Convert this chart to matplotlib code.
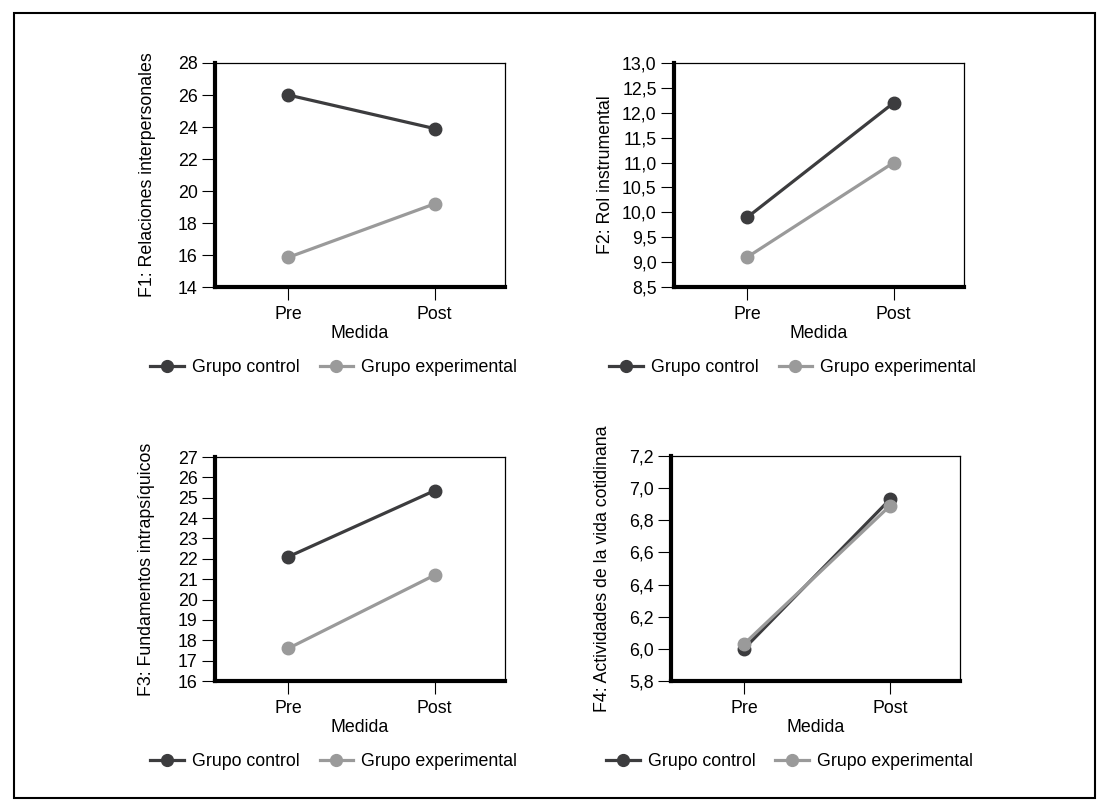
import matplotlib.pyplot as plt
from matplotlib.lines import Line2D
from matplotlib.patches import Rectangle
from matplotlib.ticker import FuncFormatter

plt.rcParams['font.family'] = ['Liberation Sans', 'DejaVu Sans']
plt.rcParams['font.size'] = 12.8

# Datos
medidas = ['Pre', 'Post']
grupos = ['Grupo control', 'Grupo experimental']

f1_control = [26.0, 23.9]
f1_experimental = [15.85, 19.2]
f2_control = [9.9, 12.2]
f2_experimental = [9.1, 11.0]
f3_control = [22.1, 25.35]
f3_experimental = [17.6, 21.2]
f4_control = [6.0, 6.93]
f4_experimental = [6.03, 6.89]

etiquetas_y = [
    'F1: Relaciones interpersonales',
    'F2: Rol instrumental',
    'F3: Fundamentos intrapsíquicos',
    'F4: Actividades de la vida cotidinana',
]
limites_y = [(14, 28), (8.5, 13.0), (16, 27), (5.8, 7.2)]
pasos_y = [2, 0.5, 1, 0.2]
decimales_y = [0, 1, 0, 1]

color_control = '#3c3c3e'
color_exp = '#9a9a9a'

W, H = 1108, 807
fig = plt.figure(figsize=(W / 100, H / 100), dpi=100)

# Marco exterior
fig.patches.append(Rectangle((14 / W, 1 - 798 / H), (1095 - 14) / W, (798 - 13) / H,
                             transform=fig.transFigure, fill=False, edgecolor='black', linewidth=1.5))

# caja de cada panel en pixeles: izquierda, derecha, arriba, abajo
cajas = [
    (215, 505, 63, 287),
    (674, 964, 63, 287),
    (215, 505, 457, 681),
    (671, 960, 456, 681),
]
# borde derecho de la etiqueta del eje y (pixeles)
x_etiqueta_y = [156, 614, 155, 611]

datos = [
    (f1_control, f1_experimental),
    (f2_control, f2_experimental),
    (f3_control, f3_experimental),
    (f4_control, f4_experimental),
]

x = list(range(len(medidas)))

for i, (l, r, t, b) in enumerate(cajas):
    ax = fig.add_axes([l / W, 1 - b / H, (r - l) / W, (b - t) / H])
    control, experimental = datos[i]
    ax.plot(x, control, color=color_control, lw=2.3, marker='o', ms=9, zorder=3)
    ax.plot(x, experimental, color=color_exp, lw=2.3, marker='o', ms=9, zorder=3)

    ymin, ymax = limites_y[i]
    ax.set_ylim(ymin, ymax)
    paso = pasos_y[i]
    n = int(round((ymax - ymin) / paso))
    ax.set_yticks([ymin + k * paso for k in range(n + 1)])
    d = decimales_y[i]
    ax.yaxis.set_major_formatter(FuncFormatter(lambda v, p, d=d: f'{v:.{d}f}'.replace('.', ',')))

    ax.set_xlim(-0.5, 1.48)
    ax.set_xticks(x)
    ax.set_xticklabels(medidas)
    ax.set_xlabel('Medida', labelpad=1.5)
    ax.set_ylabel(etiquetas_y[i])
    ax.yaxis.set_label_coords((x_etiqueta_y[i] - l) / (r - l), 0.5)

    ax.spines['left'].set_linewidth(3)
    ax.spines['bottom'].set_linewidth(3)
    ax.spines['top'].set_linewidth(0.9)
    ax.spines['right'].set_linewidth(0.9)
    ax.tick_params(axis='y', direction='out', length=9.5, width=0.8, pad=3)
    ax.tick_params(axis='x', direction='out', length=9, width=0.8, pad=4.5)

    handles = [
        Line2D([], [], color=color_control, lw=2.3, marker='o', ms=8.5),
        Line2D([], [], color=color_exp, lw=2.3, marker='o', ms=8.5),
    ]
    ax.legend(handles, grupos, loc='center', bbox_to_anchor=(0.41, -0.36), ncol=2,
              frameon=False, handlelength=1.9, handletextpad=0.45, columnspacing=1.1,
              borderaxespad=0)

fig.savefig('out.png', dpi=100)
